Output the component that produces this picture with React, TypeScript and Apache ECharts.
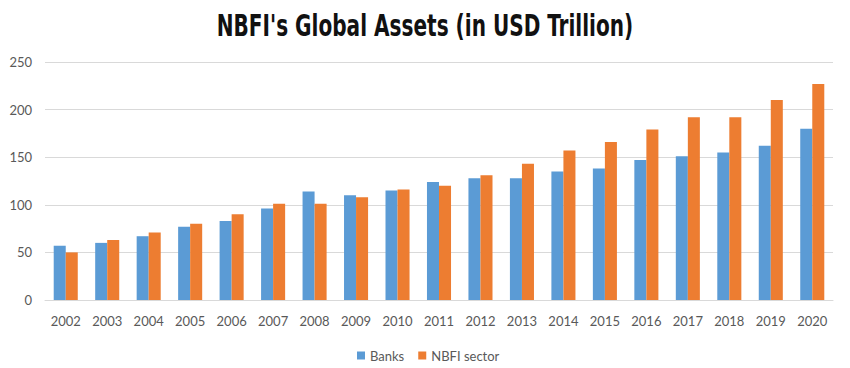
import React, { useEffect, useRef } from "react";
import * as echarts from "echarts";

const years = ["2002","2003","2004","2005","2006","2007","2008","2009","2010","2011","2012","2013","2014","2015","2016","2017","2018","2019","2020"];
const banks = [57, 60, 67, 77, 83, 96, 114, 110, 115, 124, 128, 128, 135, 138, 147, 151, 155, 162, 180];
const nbfi = [50, 63, 71, 80, 90, 101, 101, 108, 116, 120, 131, 143, 157, 166, 179, 192, 192, 210, 227];
const yTicks = [0, 50, 100, 150, 200, 250];
const titleText = "NBFI's Global Assets (in USD Trillion)";

export default function App() {
  const ref = useRef<HTMLDivElement>(null);
  useEffect(() => {
    if (!ref.current) return;
    const chart = echarts.init(ref.current, null, { renderer: "svg" });
    chart.setOption({
      animation: false,
      backgroundColor: "#ffffff",
      graphic: [
        {
          type: "text",
          x: 425,
          y: 10,
          scaleX: 0.72,
          style: {
            text: titleText,
            fontFamily: "DejaVu Sans Condensed",
            fontWeight: "bold",
            fontSize: 31,
            fill: "#111111",
            textAlign: "center",
            textVerticalAlign: "top",
          },
        },
      ],
      legend: {
        top: 344,
        left: 352,
        itemWidth: 8,
        itemHeight: 8,
        itemGap: 14,
        icon: "rect",
        textStyle: { fontFamily: "Lato", fontSize: 13, color: "#595959" },
        data: ["Banks", "NBFI sector"],
      },
      grid: { left: 45, right: 17, top: 62, bottom: 68 },
      xAxis: {
        type: "category",
        data: years,
        axisTick: { show: false },
        axisLine: { lineStyle: { color: "#d9d9d9" } },
        axisLabel: { fontFamily: "Lato", fontSize: 13, color: "#595959", margin: 14 },
      },
      yAxis: {
        type: "value",
        min: yTicks[0],
        max: yTicks[yTicks.length - 1],
        interval: 50,
        axisLine: { show: false },
        axisTick: { show: false },
        splitLine: { lineStyle: { color: "#d9d9d9" } },
        axisLabel: { fontFamily: "Lato", fontSize: 13, color: "#595959", margin: 13 },
      },
      series: [
        {
          name: "Banks",
          type: "bar",
          data: banks,
          barGap: "0%",
          barCategoryGap: "42%",
          itemStyle: { color: "#5B9BD5" },
        },
        {
          name: "NBFI sector",
          type: "bar",
          data: nbfi,
          itemStyle: { color: "#ED7D31" },
        },
      ],
    });
    return () => chart.dispose();
  }, []);
  return <div ref={ref} style={{ position: "fixed", left: 0, top: 0, width: 850, height: 368 }} />;
}
